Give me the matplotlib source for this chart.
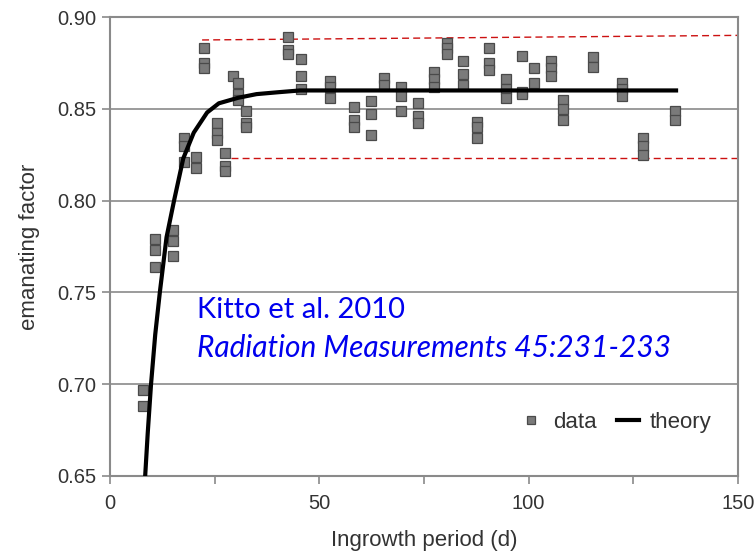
import numpy as np
import matplotlib.pyplot as plt
from matplotlib.ticker import MultipleLocator, FormatStrFormatter

# measured emanating factor, grouped by ingrowth period (d)
data_x = [7.9, 7.9,
          10.7, 10.7, 10.7,
          15.0, 15.0, 15.0,
          17.7, 17.7, 17.7,
          20.5, 20.5,
          22.4, 22.4, 22.4,
          25.5, 25.5, 25.5,
          27.5, 27.5, 27.5,
          29.4, 30.6, 30.6, 30.6,
          32.5, 32.5, 32.5,
          42.5, 42.5, 42.5,
          45.6, 45.6, 45.6,
          52.5, 52.5, 52.5,
          58.3, 58.3, 58.3,
          62.3, 62.3, 62.3,
          65.4, 65.4,
          69.5, 69.5, 69.5,
          73.6, 73.6, 73.6,
          77.4, 77.4, 77.4,
          80.5, 80.5, 80.5,
          84.3, 84.3, 84.3,
          87.7, 87.7, 87.7,
          90.5, 90.5, 90.5,
          94.6, 94.6, 94.6,
          98.4, 98.4, 98.4,
          101.3, 101.3,
          105.3, 105.3, 105.3,
          108.2, 108.2, 108.2,
          115.4, 115.4,
          122.3, 122.3, 122.3,
          127.3, 127.3, 127.3,
          135.0, 135.0]
data_y = [0.697, 0.688,
          0.779, 0.773, 0.764,
          0.784, 0.778, 0.770,
          0.834, 0.830, 0.821,
          0.824, 0.818,
          0.883, 0.875, 0.872,
          0.842, 0.837, 0.833,
          0.826, 0.819, 0.816,
          0.868, 0.864, 0.858, 0.855,
          0.849, 0.842, 0.840,
          0.889, 0.882, 0.880,
          0.877, 0.868, 0.861,
          0.865, 0.862, 0.856,
          0.851, 0.844, 0.840,
          0.854, 0.847, 0.836,
          0.867, 0.863,
          0.862, 0.857, 0.849,
          0.853, 0.846, 0.842,
          0.870, 0.866, 0.862,
          0.886, 0.883, 0.880,
          0.876, 0.869, 0.863,
          0.843, 0.840, 0.834,
          0.883, 0.875, 0.871,
          0.866, 0.861, 0.856,
          0.879, 0.859, 0.858,
          0.872, 0.864,
          0.876, 0.872, 0.868,
          0.855, 0.850, 0.844,
          0.878, 0.873,
          0.864, 0.861, 0.857,
          0.834, 0.830, 0.825,
          0.849, 0.844]

# theory curve
theory_x = [8.4, 9.0, 9.8, 10.8, 11.9, 13.5, 15.3, 17.5, 20.0, 23.2, 26.0,
            30.6, 35.0, 40.0, 45.4, 60.0, 80.0, 100.0, 120.0, 135.2]
theory_y = [0.650, 0.673, 0.700, 0.727, 0.750, 0.780, 0.800, 0.823, 0.837, 0.848,
            0.853, 0.856, 0.858, 0.859, 0.860, 0.860, 0.860, 0.860, 0.860, 0.860]

# red dashed bounds
upper_x = [22, 150]
upper_y = [0.8875, 0.890]
lower_x = [29, 150]
lower_y = [0.823, 0.823]

fig = plt.figure(figsize=(7.55, 5.56), dpi=100)
ax = fig.add_axes([0.1457, 0.1439, 0.8318, 0.8255])

grey = "#8a8a8a"
for yv in [0.70, 0.75, 0.80, 0.85]:
    ax.axhline(yv, color=grey, lw=1.2, zorder=1)

ax.plot(upper_x, upper_y, color="#cc1111", lw=1.0, ls=(0, (5, 3)), zorder=2)
ax.plot(lower_x, lower_y, color="#cc1111", lw=1.0, ls=(0, (5, 3)), zorder=2)

ax.plot(data_x, data_y, ls="none", marker="s", ms=7, mfc="#7a7a7a", mec="#4a4a4a",
        mew=0.9, label="data", zorder=3)
ax.plot(theory_x, theory_y, color="black", lw=3, label="theory", zorder=4)

ax.set_xlim(0, 150)
ax.set_ylim(0.65, 0.90)
ax.xaxis.set_major_locator(MultipleLocator(50))
ax.xaxis.set_minor_locator(MultipleLocator(25))
ax.yaxis.set_major_locator(MultipleLocator(0.05))
ax.yaxis.set_major_formatter(FormatStrFormatter("%.2f"))

for s in ax.spines.values():
    s.set_color(grey)
    s.set_linewidth(1.5)
ax.tick_params(which="both", direction="out", color=grey, width=1.2, length=6,
               labelsize=14.5, labelcolor="#333333")
ax.tick_params(axis="x", pad=7)
ax.tick_params(axis="y", pad=4)

ax.set_xlabel("Ingrowth period (d)", fontsize=16, color="#333333", labelpad=12,
              family="Liberation Sans")
ax.set_ylabel("emanating factor", fontsize=16, color="#333333", labelpad=12,
              family="Liberation Sans")
for lab in ax.get_xticklabels() + ax.get_yticklabels():
    lab.set_family("Liberation Sans")

ax.text(20.8, 0.7405, "Kitto et al. 2010", color="#0000ee", fontsize=21, family="Lato",
        va="center")
ax.text(20.8, 0.7195, "Radiation Measurements 45:231-233", color="#0000ee", fontsize=21.5,
        family="Lato", style="italic", va="center")

leg = ax.legend(loc="lower right", bbox_to_anchor=(0.99, 0.05), ncol=2, frameon=False,
                handlelength=1.0, handletextpad=0.5, columnspacing=0.9,
                markerscale=0.8, prop={"family": "Liberation Sans", "size": 16})
for t in leg.get_texts():
    t.set_color("#333333")

fig.savefig("out.png", dpi=100)
